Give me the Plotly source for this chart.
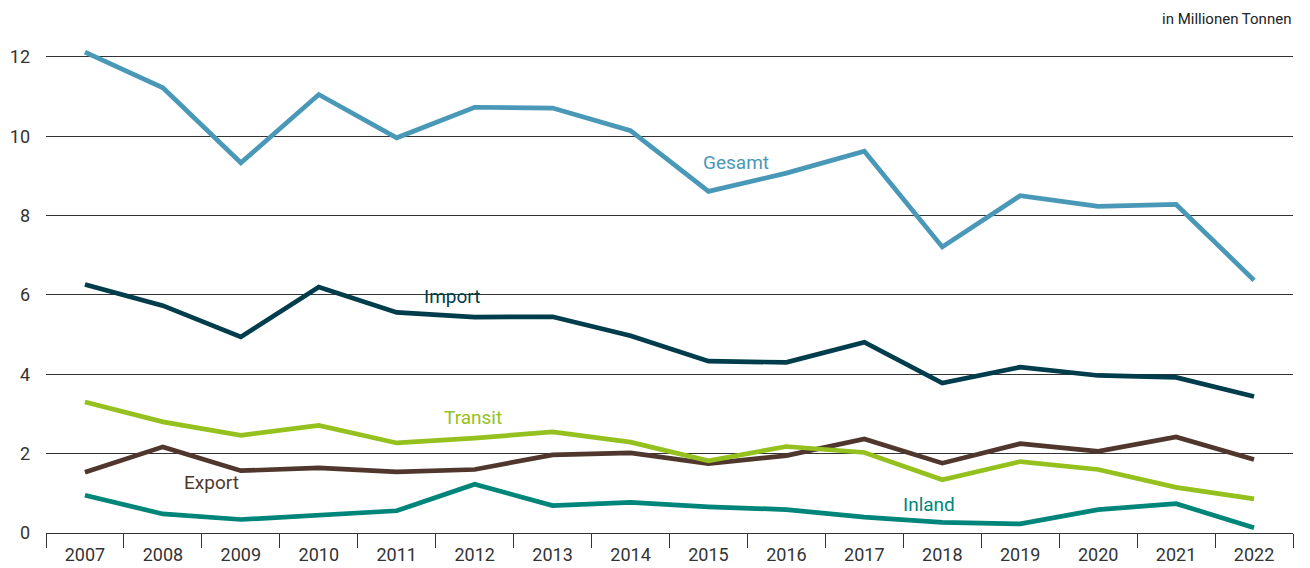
import plotly.graph_objects as go

years = [str(y) for y in range(2007, 2023)]
gesamt = [12.12, 11.22, 9.33, 11.05, 9.96, 10.73, 10.71, 10.14, 8.61, 9.07, 9.62, 7.21, 8.50, 8.23, 8.28, 6.37]
import_ = [6.26, 5.73, 4.94, 6.20, 5.56, 5.44, 5.45, 4.97, 4.33, 4.30, 4.81, 3.78, 4.18, 3.97, 3.92, 3.44]
transit = [3.30, 2.80, 2.46, 2.71, 2.27, 2.39, 2.55, 2.29, 1.82, 2.18, 2.03, 1.34, 1.80, 1.60, 1.15, 0.86]
export = [1.53, 2.17, 1.57, 1.64, 1.54, 1.60, 1.97, 2.02, 1.75, 1.95, 2.37, 1.76, 2.25, 2.06, 2.42, 1.85]
inland = [0.95, 0.48, 0.34, 0.44, 0.56, 1.23, 0.69, 0.77, 0.66, 0.59, 0.40, 0.27, 0.23, 0.59, 0.74, 0.13]

series = [
    ("Gesamt", gesamt, "#4a98b8", 8.35, 9.33),
    ("Import", import_, "#003d4c", 4.71, 5.96),
    ("Export", export, "#4f372e", 1.62, 1.27),
    ("Transit", transit, "#95c11f", 4.98, 2.91),
    ("Inland", inland, "#00857a", 10.83, 0.71),
]

FONT = "Roboto"
fig = go.Figure()
for name, vals, color, lx, ly in series:
    fig.add_trace(go.Scatter(x=years, y=vals, mode="lines", name=name,
                             line=dict(color=color, width=4.7), hoverinfo="x+y"))
    fig.add_annotation(x=lx, y=ly, xref="x", yref="y", text=name, showarrow=False,
                       font=dict(family=FONT, size=19, color=color))

fig.add_annotation(x=1.0, y=1.037, xref="paper", yref="paper", xanchor="right", yanchor="middle",
                   text="in Millionen Tonnen", showarrow=False,
                   font=dict(family=FONT, size=15, color="#222222"))

fig.update_layout(
    width=1302, height=560,
    margin=dict(l=38, r=17, t=29, b=35),
    plot_bgcolor="white", paper_bgcolor="white",
    showlegend=False,
    font=dict(family=FONT, size=18, color="#333333"),
)
fig.update_xaxes(type="category", range=[-0.5, 15.5], tickson="boundaries",
                 ticks="outside", ticklen=14, tickcolor="#333333", tickwidth=1,
                 showline=True, linecolor="#333333", linewidth=1, showgrid=False,
                 ticklabelstandoff=5, automargin=False,
                 tickfont=dict(family=FONT, size=18, color="#333333"))
fig.update_yaxes(range=[0, 12.5], tickvals=[0, 2, 4, 6, 8, 10, 12], showgrid=True,
                 gridcolor="#333333", gridwidth=1, zeroline=False, showline=False,
                 ticks="", ticklabelstandoff=15, automargin=False,
                 tickfont=dict(family=FONT, size=18, color="#333333"))

fig.write_html("out.html")
